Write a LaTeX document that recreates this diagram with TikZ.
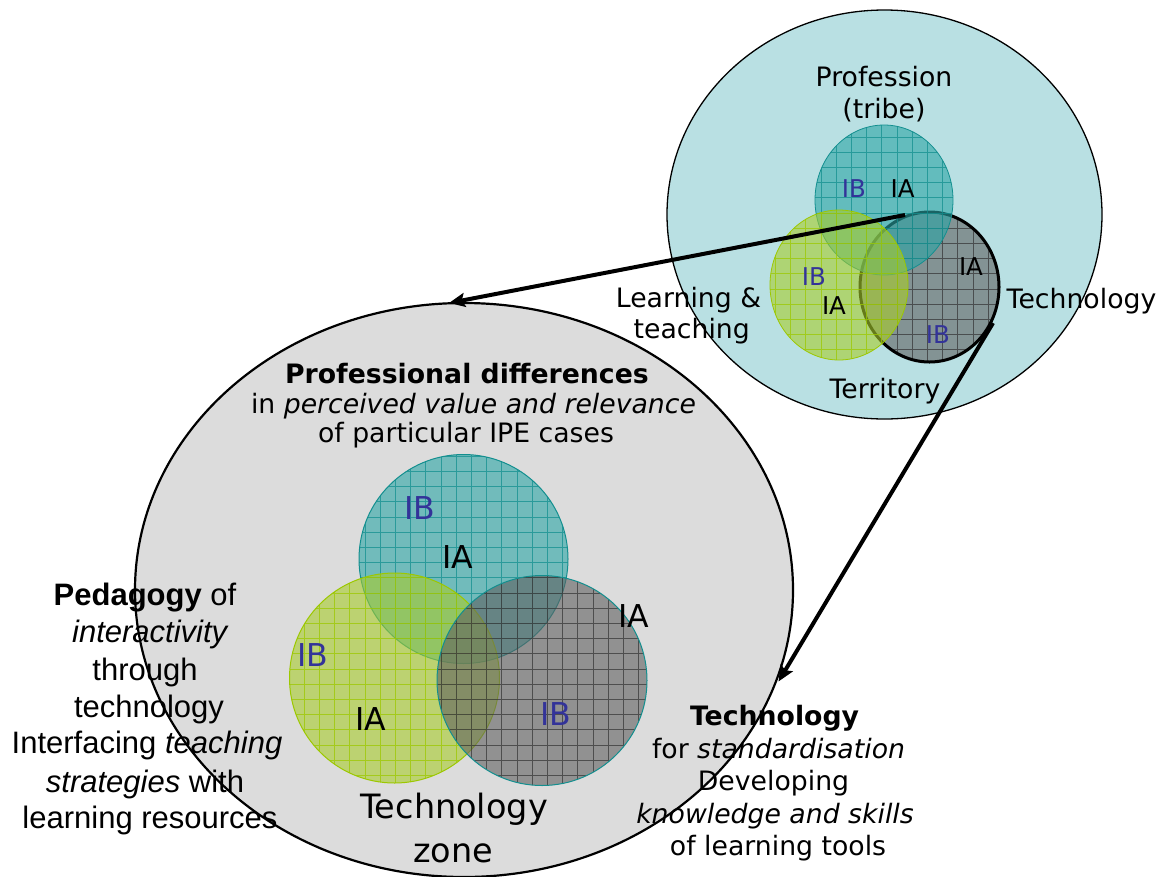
\documentclass[tikz,border=0pt]{standalone}
\usepackage{fontspec}
\setmainfont{DejaVu Sans}
\newfontfamily\arialfont{Liberation Sans}
\usetikzlibrary{arrows.meta}

\definecolor{cyanbg}{HTML}{B9E0E3}
\definecolor{zonebg}{HTML}{DCDCDC}
\definecolor{tealfill}{HTML}{2AA5A5}
\definecolor{tealgrid}{HTML}{138F8F}
\definecolor{limefill}{HTML}{A8CC2A}
\definecolor{limegrid}{HTML}{9CC800}
\definecolor{grayfill}{HTML}{606060}
\definecolor{graygrid}{HTML}{383838}
\definecolor{ibblue}{HTML}{333399}

% translucent gridded disc: cx, cy, rx, ry, fill, grid colour, border style
\newcommand\vennDisc[7]{%
  \fill[#5, fill opacity=0.6] (#1,#2) ellipse[x radius=#3pt, y radius=#4pt];
  \begin{scope}
    \clip (#1,#2) ellipse[x radius=#3pt, y radius=#4pt];
    \draw[#6, line width=0.6pt, opacity=0.75, step=15.2pt]
      ({#1-#3},{#2+#4}) grid ({#1+#3},{#2-#4});
  \end{scope}
  \draw[#7] (#1,#2) ellipse[x radius=#3pt, y radius=#4pt];
}

\tikzset{
  lbl/.style={inner sep=0pt, anchor=base, font=\fontsize{26.7}{32}\selectfont},
  smallab/.style={inner sep=0pt, anchor=base, font=\fontsize{24.5}{29}\selectfont},
  bigab/.style={inner sep=0pt, anchor=base, font=\fontsize{31.5}{38}\selectfont},
  zonelbl/.style={inner sep=0pt, anchor=base, font=\fontsize{33.5}{40}\selectfont},
  ped/.style={inner sep=0pt, anchor=base, font=\arialfont\fontsize{31}{37}\selectfont},
  ib/.style={text=ibblue},
  bigarrow/.style={line width=4pt, -{Stealth[length=16pt, width=14pt, inset=3pt]}},
}

\begin{document}
\begin{tikzpicture}[x=1pt, y=-1pt]
\useasboundingbox (0,0) rectangle (1170,876);

% ---- technology zone (large grey ellipse) ----
\fill[zonebg] (464,590) ellipse[x radius=329pt, y radius=287pt];
\draw[black, line width=2.2pt] (464,590) ellipse[x radius=329pt, y radius=287pt];

\vennDisc{463.5}{559}{104.5}{104.5}{tealfill}{tealgrid}{tealgrid, line width=1pt}
\vennDisc{394.5}{678}{105}{105}{limefill}{limegrid}{limegrid, line width=1pt}
\vennDisc{542}{680.5}{105}{105}{grayfill}{graygrid}{tealgrid, line width=1pt}

% ---- territory (upper-right circle) ----
\fill[cyanbg] (884.5,214.5) ellipse[x radius=217.5pt, y radius=204.5pt];
\draw[black, line width=1.3pt] (884.5,214.5) ellipse[x radius=217.5pt, y radius=204.5pt];

\vennDisc{929.5}{287}{69.5}{75}{grayfill}{graygrid}{black, line width=3pt}
\vennDisc{884}{200}{69}{75}{tealfill}{tealgrid}{tealgrid, line width=0.8pt}
\vennDisc{839}{285}{69}{75}{limefill}{limegrid}{limegrid, line width=0.8pt}

% ---- labels of the upper-right circle ----
\node[lbl] (prof1) at (884,86) {Profession};
\node[lbl] (prof2) at (884,118) {(tribe)};
\node[lbl] (lt1) at (688.5,307) {Learning \&};
\node[lbl] (lt2) at (691.7,338) {teaching};
\node[lbl] (tech) at (1081.5,308) {Technology};
\node[lbl] (terr) at (885,398) {Territory};

\node[smallab, ib] (sib1) at (854,197) {IB};
\node[smallab] (sia1) at (902.7,197) {IA};
\node[smallab, ib] (sib2) at (814,285) {IB};
\node[smallab] (sia2) at (834,314) {IA};
\node[smallab] (sia3) at (971,275) {IA};
\node[smallab, ib] (sib3) at (938,343) {IB};

% ---- labels of the technology zone ----
\node[bigab, ib] (bib1) at (419.5,519) {IB};
\node[bigab] (bia1) at (458,568) {IA};
\node[bigab, ib] (bib2) at (312.5,666) {IB};
\node[bigab] (bia2) at (370.5,730) {IA};
\node[bigab] (bia3) at (634,627) {IA};
\node[bigab, ib] (bib3) at (556,725) {IB};

\node[zonelbl] (zone1) at (454,818) {Technology};
\node[zonelbl] (zone2) at (453,862) {zone};

\node[lbl] (pd1) at (467,383) {\textbf{Professional differences}};
\node[lbl] (pd2) at (473.5,413) {in \textit{perceived value and relevance}};
\node[lbl] (pd3) at (466,442) {of particular IPE cases};

\node[ped] (pg1) at (145,605) {\textbf{Pedagogy} of};
\node[ped] (pg2) at (150.5,642) {\textit{interactivity}};
\node[ped] (pg3) at (145,680) {through};
\node[ped] (pg4) at (149,717) {technology};
\node[ped] (pg5) at (147,753) {Interfacing \textit{teaching}};
\node[ped] (pg6) at (145,792) {\textit{strategies} with};
\node[ped] (pg7) at (150,828) {learning resources};

\node[lbl] (ts1) at (774.5,725) {\textbf{Technology}};
\node[lbl] (ts2) at (778.5,758) {for \textit{standardisation}};
\node[lbl] (ts3) at (773.5,790) {Developing};
\node[lbl] (ts4) at (775,823) {\textit{knowledge and skills}};
\node[lbl] (ts5) at (778,855) {of learning tools};

% ---- zoom arrows ----
\coordinate (src1) at (905,215);
\coordinate (tip1) at (449,303);
\coordinate (src2) at (993,323);
\coordinate (tip2) at (778.5,681.5);
\draw[bigarrow] (src1) -- (tip1);
\draw[bigarrow] (src2) -- (tip2);
\end{tikzpicture}
\end{document}
